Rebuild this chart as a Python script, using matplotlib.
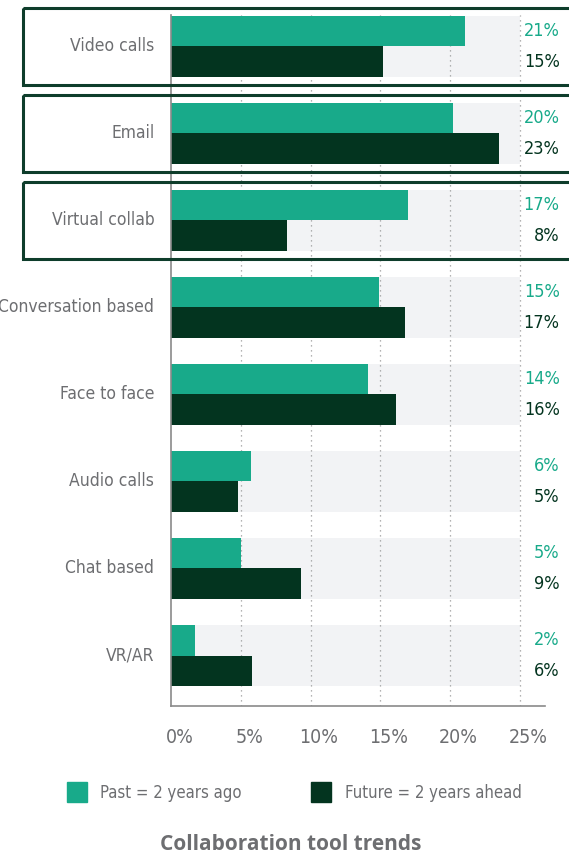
import matplotlib.pyplot as plt
import matplotlib.transforms as mtransforms
from matplotlib.patches import Rectangle
import numpy as np

categories = ['Video calls', 'Email', 'Virtual collab', 'Conversation based',
              'Face to face', 'Audio calls', 'Chat based', 'VR/AR']
past = [21.1, 20.2, 17.0, 14.9, 14.1, 5.7, 5.0, 1.7]
future = [15.2, 23.5, 8.3, 16.8, 16.1, 4.8, 9.3, 5.8]
past_labels = ['21%', '20%', '17%', '15%', '14%', '6%', '5%', '2%']
future_labels = ['15%', '23%', '8%', '17%', '16%', '5%', '9%', '6%']
boxed = ['Video calls', 'Email', 'Virtual collab']
xticks = [0, 5, 10, 15, 20, 25]

PAST_C = '#18aa8a'
FUT_C = '#03341f'
BG_C = '#f2f3f5'
GREY = '#6d6e71'
BOX_C = '#0e3d2b'

plt.rcParams['font.family'] = ['DejaVu Sans']
plt.rcParams['font.stretch'] = 'condensed'

W, H = 569, 858
fig = plt.figure(figsize=(W / 100, H / 100), dpi=100)
ax = fig.add_axes([171 / W, 1 - 706 / H, (545 - 171) / W, (706 - 15) / H])

y = np.arange(len(categories))
bh = 0.35

# grey background track behind each pair
ax.barh(y, 25, height=2 * bh, color=BG_C, zorder=0)
for t in xticks[1:]:
    ax.axvline(t, color='#9a9a9a', linestyle=(0, (1, 3)), linewidth=0.9, zorder=1)
ax.barh(y - bh / 2, past, height=bh, color=PAST_C, zorder=2)
ax.barh(y + bh / 2, future, height=bh, color=FUT_C, zorder=2)

ax.set_xlim(0, 26.8)
ax.set_ylim(len(categories) - 1 + 0.58, -0.36)

for i in range(len(categories)):
    ax.text(27.85, i - bh / 2, past_labels[i], color=PAST_C, fontsize=13,
            ha='right', va='center', clip_on=False)
    ax.text(27.85, i + bh / 2, future_labels[i], color=FUT_C, fontsize=13,
            ha='right', va='center', clip_on=False)
    ax.text(-1.2, i, categories[i], color=GREY, fontsize=12.5,
            ha='right', va='center', clip_on=False)

# boxes around highlighted rows
btr = mtransforms.blended_transform_factory(fig.transFigure, ax.transData)
for name in boxed:
    i = categories.index(name)
    ax.add_patch(Rectangle((23 / W, i - 0.445), 1.2, 0.89, transform=btr,
                           fill=False, edgecolor=BOX_C, linewidth=2.2,
                           clip_on=False, zorder=5))

# tick labels sit a little right of their gridlines in the original
ax.set_yticks([])
ax.set_xticks([t + 0.6 for t in xticks])
ax.set_xticklabels([f'{t}%' for t in xticks], color=GREY, fontsize=14)
ax.tick_params(axis='x', length=0, pad=16)
for s in ['top', 'right']:
    ax.spines[s].set_visible(False)
ax.spines['left'].set_color('#8a8a8a')
ax.spines['bottom'].set_color('#8a8a8a')
ax.spines['left'].set_linewidth(1.2)
ax.spines['bottom'].set_linewidth(1.2)

# legend
fig.patches.append(Rectangle((67 / W, 1 - 802 / H), 20 / W, 20 / H,
                             transform=fig.transFigure, color=PAST_C))
fig.text(100 / W, 1 - 793 / H, 'Past = 2 years ago', color=GREY, fontsize=12,
         va='center')
fig.patches.append(Rectangle((311 / W, 1 - 802 / H), 20 / W, 20 / H,
                             transform=fig.transFigure, color=FUT_C))
fig.text(345 / W, 1 - 793 / H, 'Future = 2 years ahead', color=GREY,
         fontsize=12, va='center')

fig.text(291 / W, 1 - 845 / H, 'Collaboration tool trends', color=GREY,
         fontsize=15, fontweight='bold', ha='center', va='center',
         family=['Open Sans', 'DejaVu Sans'], stretch='normal')

fig.savefig('out.png', dpi=100)
